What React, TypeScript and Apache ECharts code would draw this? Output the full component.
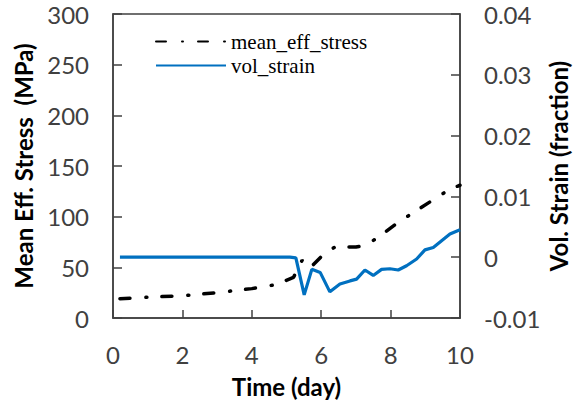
import React, { useEffect, useRef } from "react";
import * as echarts from "echarts";

// Mean effective stress (MPa) over time (day)
const stressTime = [0.2, 1, 2, 3, 4, 4.7, 5.2, 5.45, 5.7, 6.1, 6.4, 7.0, 7.3, 7.7, 8.2, 8.7, 9.2, 9.7, 10];
const stressValues = [19, 20.5, 22, 25, 29, 33, 40, 57, 50, 64, 70, 70, 72, 81, 94, 105, 116, 127, 131];

// Volumetric strain (fraction) over time (day)
const strainTime = [0.2, 5.1, 5.27, 5.51, 5.73, 5.97, 6.25, 6.54, 6.83, 7.02, 7.26, 7.5, 7.74, 7.98, 8.22, 8.46, 8.75, 8.99, 9.23, 9.47, 9.71, 10];
const strainValues = [0, 0, -0.0001, -0.0062, -0.002, -0.0025, -0.0057, -0.0044, -0.0039, -0.0036, -0.0021, -0.003, -0.002, -0.0019, -0.0021, -0.0014, -0.0003, 0.0012, 0.0016, 0.0027, 0.0038, 0.0045];

const seriesNames = ["mean_eff_stress", "vol_strain"];

const axisColor = "#404040";
const labelFont = "Lato, 'Open Sans', sans-serif";

export default function App() {
  const ref = useRef<HTMLDivElement>(null);

  useEffect(() => {
    if (!ref.current) return;
    const chart = echarts.init(ref.current, null, { renderer: "svg" });

    const tickLabel = { color: "#404040", fontFamily: labelFont, fontSize: 24 };
    const axisTitle = { color: "#000", fontFamily: labelFont, fontSize: 24, fontWeight: "bold" as const };

    chart.setOption({
      animation: false,
      backgroundColor: "#fff",
      grid: {
        left: 113,
        right: 117,
        top: 14,
        bottom: 88,
        outerBoundsMode: "none",
        containLabel: false,
        show: true,
        borderColor: axisColor,
        borderWidth: 1.5,
      },
      legend: {
        left: 155,
        top: 31,
        padding: 0,
        orient: "vertical",
        itemWidth: 70,
        itemHeight: 12,
        itemGap: 3,
        itemStyle: { opacity: 0 },
        textStyle: { fontFamily: "'Liberation Serif', serif", fontSize: 21, color: "#000" },
        data: seriesNames,
      },
      xAxis: {
        type: "value",
        min: 0,
        max: 10,
        interval: 2,
        name: "Time (day)",
        nameLocation: "middle",
        nameGap: 56,
        nameMoveOverlap: false,
        nameTextStyle: axisTitle,
        axisLine: { lineStyle: { color: axisColor, width: 1.5 } },
        axisTick: { inside: true, length: 8, lineStyle: { color: axisColor, width: 1.5 } },
        axisLabel: { ...tickLabel, margin: 24 },
        splitLine: { show: false },
      },
      yAxis: [
        {
          type: "value",
          min: 0,
          max: 300,
          interval: 50,
          name: "Mean Eff. Stress  (MPa)",
          nameLocation: "middle",
          nameGap: 78,
          nameMoveOverlap: false,
          nameTextStyle: axisTitle,
          axisLine: { show: true, lineStyle: { color: axisColor, width: 1.5 } },
          axisTick: { show: true, inside: true, length: 9, lineStyle: { color: axisColor, width: 1.5 } },
          axisLabel: { ...tickLabel, margin: 24 },
          splitLine: { show: false },
        },
        {
          type: "value",
          min: -0.01,
          max: 0.04,
          interval: 0.01,
          name: "Vol. Strain (fraction)",
          nameLocation: "middle",
          nameGap: 86,
          nameRotate: 90,
          nameMoveOverlap: false,
          nameTextStyle: axisTitle,
          position: "right",
          axisLine: { show: true, lineStyle: { color: axisColor, width: 1.5 } },
          axisTick: { show: true, inside: true, length: 9, lineStyle: { color: axisColor, width: 1.5 } },
          axisLabel: {
            ...tickLabel,
            margin: 24,
            formatter: (v: number) => (Math.abs(v) < 1e-9 ? "0" : String(parseFloat(v.toFixed(2)))),
          },
          splitLine: { show: false },
        },
      ],
      series: [
        {
          name: seriesNames[0],
          type: "line",
          yAxisIndex: 0,
          data: stressTime.map((t, i) => [t, stressValues[i]]),
          showSymbol: false,
          symbol: "none",
          lineStyle: { color: "#000", width: 3.5, type: [10, 16, 1, 15], cap: "round" },
          itemStyle: { color: "#000" },
        },
        {
          name: seriesNames[1],
          type: "line",
          yAxisIndex: 1,
          data: strainTime.map((t, i) => [t, strainValues[i]]),
          showSymbol: false,
          symbol: "none",
          lineStyle: { color: "#0070C0", width: 3.2 },
          itemStyle: { color: "#0070C0" },
        },
      ],
    });

    return () => chart.dispose();
  }, []);

  return (
    <div
      ref={ref}
      style={{ position: "absolute", left: 0, top: 0, width: 577, height: 406 }}
    />
  );
}
